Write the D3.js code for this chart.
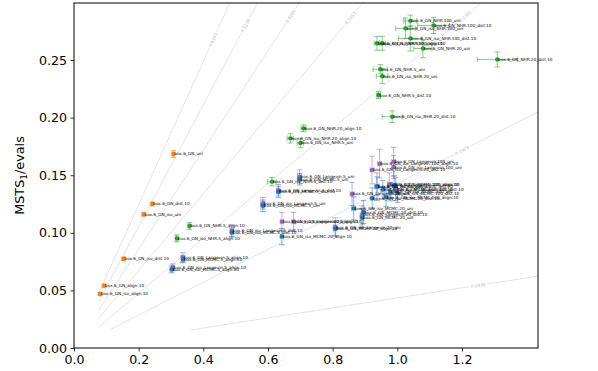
<!DOCTYPE html>
<html><head><meta charset="utf-8">
<script src="https://cdn.jsdelivr.net/npm/d3@7"></script>
<style>body{margin:0;background:#fff} svg{display:block;font-family:"DejaVu Sans",sans-serif}</style>
</head><body><svg id="c" width="598" height="371"></svg>
<script>
// ---------- data ----------
const xTicks = [0.0, 0.2, 0.4, 0.6, 0.8, 1.0, 1.2];
const yTicks = [0.00, 0.05, 0.10, 0.15, 0.20, 0.25];

const refSlopes = [0.622, 0.528, 0.43, 0.335, 0.238, 0.1429, 0.0435];
const refStartX = [0.075, 0.075, 0.075, 0.075, 0.075, 0.11, 0.36];
const refLabelX = [0.43, 0.53, 0.67, 0.855, 1.21, 1.2, 1.25];
const refLabels = ["0.6190", "0.5238", "0.4286", "0.3333", "0.2381", "0.1429", "0.0435"];

const groupNames = ["base", "NHR", "Langevin", "MCMC"];
const groupColors = ["#ff7f0e", "#2ca02c", "#9467bd", "#1f77b4"];

const pointNames = [
  "box.6_GN_uni","box.6_GN_dist.10","box.6_GN_iso_uni","box.6_GN_iso_dist.10","box.6_GN_align.10","box.6_GN_iso_align.10",
  "box.6_GN_NHR.5_align.10","box.6_GN_iso_NHR.5_align.10","box.6_GN_NHR.5_uni","box.6_GN_iso_NHR.5_uni","box.6_GN_NHR.5_dist.10","box.6_GN_iso_NHR.5_dist.10",
  "box.6_GN_NHR.20_align.10","box.6_GN_iso_NHR.20_align.10","box.6_GN_NHR.20_uni","box.6_GN_iso_NHR.20_uni","box.6_GN_NHR.20_dist.10","box.6_GN_iso_NHR.20_dist.10",
  "box.6_GN_NHR.100_uni","box.6_GN_iso_NHR.100_uni","box.6_GN_NHR.100_dist.10","box.6_GN_iso_NHR.100_dist.10","box.6_GN_NHR.100_align.10","box.6_GN_iso_NHR.100_align.10",
  "box.6_GN_Langevin.5_align.10","box.6_GN_iso_Langevin.5_align.10","box.6_GN_Langevin.5_uni","box.6_GN_iso_Langevin.5_uni","box.6_GN_Langevin.5_dist.10","box.6_GN_iso_Langevin.5_dist.10",
  "box.6_GN_Langevin.20_align.10","box.6_GN_iso_Langevin.20_align.10","box.6_GN_iso_Langevin.20_uni","box.6_GN_Langevin.20_uni","box.6_GN_Langevin.20_dist.10","box.6_GN_iso_Langevin.20_dist.10",
  "box.6_GN_iso_Langevin.100_dist.10","box.6_GN_Langevin.100_uni","box.6_GN_iso_Langevin.100_uni","box.6_GN_iso_Langevin.100_align.10","box.6_GN_Langevin.100_align.10","box.6_GN_Langevin.100_dist.10",
  "box.6_GN_MCMC.5_align.10","box.6_GN_iso_MCMC.5_align.10","box.6_GN_MCMC.5_uni","box.6_GN_iso_MCMC.5_uni","box.6_GN_MCMC.5_dist.10","box.6_GN_iso_MCMC.5_dist.10",
  "box.6_GN_iso_MCMC.20_align.10","box.6_GN_MCMC.20_align.10","box.6_GN_iso_MCMC.20_uni","box.6_GN_MCMC.20_uni","box.6_GN_MCMC.20_dist.10","box.6_GN_iso_MCMC.20_dist.10",
  "box.6_GN_MCMC.100_uni","box.6_GN_iso_MCMC.100_uni","box.6_GN_MCMC.100_dist.10","box.6_GN_iso_MCMC.100_dist.10","box.6_GN_MCMC.100_align.10","box.6_GN_iso_MCMC.100_align.10"
];
const pointX = [
  0.307,0.242,0.215,0.153,0.093,0.0805,
  0.357,0.318,0.947,0.700,0.942,0.612,
  0.710,0.669,1.079,0.953,1.309,0.984,
  1.040,1.025,1.112,1.040,0.953,0.937,
  0.336,0.3055,0.6975,0.584,0.632,0.488,
  0.679,0.643,0.808,0.860,0.891,0.9215,
  0.937,0.9886,0.9886,0.945,0.975,0.995,
  0.337,0.302,0.6975,0.584,0.632,0.488,
  0.643,0.808,0.865,0.891,0.895,0.922,
  0.937,0.978,1.0,0.955,0.99,0.965
];
const pointY = [
  0.1684,0.125,0.116,0.0775,0.054,0.0469,
  0.106,0.0952,0.242,0.178,0.2196,0.1444,
  0.1907,0.182,0.260,0.236,0.2505,0.2008,
  0.284,0.2775,0.280,0.2688,0.2645,0.2645,
  0.0787,0.0700,0.1487,0.1256,0.137,0.1018,
  0.1097,0.1097,0.105,0.1337,0.1155,0.1545,
  0.140,0.1617,0.157,0.160,0.142,0.138,
  0.0770,0.0683,0.1465,0.1235,0.1355,0.1003,
  0.0967,0.1035,0.1212,0.113,0.118,0.130,
  0.1405,0.1357,0.1345,0.1375,0.1415,0.131
];
const pointXErr = [
  0.003,0.003,0.003,0.003,0.003,0.003,
  0.004,0.004,0.022,0.01,0.006,0.013,
  0.008,0.01,0.028,0.018,0.062,0.031,
  0.02,0.03,0.049,0.036,0.01,0.009,
  0.004,0.004,0.006,0.006,0.005,0.005,
  0.005,0.005,0.006,0.006,0.006,0.006,
  0.006,0.006,0.006,0.006,0.006,0.006,
  0.004,0.004,0.006,0.006,0.005,0.005,
  0.005,0.006,0.006,0.006,0.006,0.006,
  0.006,0.006,0.006,0.006,0.006,0.006
];
const pointYErr = [
  0.003,0.0015,0.0015,0.0012,0.0012,0.0012,
  0.003,0.003,0.004,0.004,0.003,0.0036,
  0.003,0.004,0.008,0.0065,0.0065,0.005,
  0.005,0.009,0.007,0.011,0.006,0.006,
  0.004,0.003,0.006,0.005,0.005,0.005,
  0.008,0.008,0.008,0.01,0.008,0.012,
  0.012,0.0125,0.01,0.0125,0.01,0.01,
  0.003,0.003,0.005,0.005,0.005,0.004,
  0.007,0.006,0.01,0.008,0.01,0.009,
  0.008,0.008,0.008,0.008,0.008,0.008
];
const pointGroup = [
  0,0,0,0,0,0,
  1,1,1,1,1,1,1,1,1,1,1,1,1,1,1,1,1,1,
  2,2,2,2,2,2,2,2,2,2,2,2,2,2,2,2,2,2,
  3,3,3,3,3,3,3,3,3,3,3,3,3,3,3,3,3,3
];

// ---------- chart ----------
const W = 598, H = 371;
const m = {l: 74, r: 60, t: 3, b: 23};
const svg = d3.select("#c");
const x = d3.scaleLinear().domain([0, 1.435]).range([m.l, W - m.r]);
const y = d3.scaleLinear().domain([0, 0.2995]).range([H - m.b, m.t]);

svg.append("defs").append("clipPath").attr("id", "clip")
  .append("rect").attr("x", m.l).attr("y", m.t).attr("width", W - m.l - m.r).attr("height", H - m.t - m.b);

// reference lines
const refG = svg.append("g").attr("clip-path", "url(#clip)");
refSlopes.forEach((s, i) => {
  const xEnd = Math.min(1.435, 0.2995 / s);
  refG.append("line")
    .attr("x1", x(refStartX[i])).attr("y1", y(s * refStartX[i]))
    .attr("x2", x(xEnd)).attr("y2", y(s * xEnd))
    .attr("stroke", "#dcdcdc").attr("stroke-width", 0.8);
  const lx = x(refLabelX[i]), ly = y(s * refLabelX[i]);
  const ang = Math.atan2(y(s * refLabelX[i]) - y(s * (refLabelX[i] + 0.1)), x(refLabelX[i] + 0.1) - x(refLabelX[i])) * 180 / Math.PI;
  const lg = refG.append("g").attr("transform", `translate(${lx},${ly}) rotate(${-ang})`);
  lg.append("rect").attr("x", -9).attr("y", -2.6).attr("width", 18).attr("height", 5.2).attr("fill", "#fff");
  lg.append("text").attr("text-anchor", "middle").attr("dy", "0.35em")
    .attr("font-size", 4.3).attr("fill", "#b8b8b8").text(refLabels[i]);
});

// points
const data = pointNames.map((n, i) => ({n, x: pointX[i], y: pointY[i], xe: pointXErr[i], ye: pointYErr[i], g: pointGroup[i]}));
const ptG = svg.append("g");
const cap = 2.8;
data.forEach(d => {
  const c = groupColors[d.g];
  const g = ptG.append("g").attr("stroke", c).attr("stroke-opacity", 0.55).attr("stroke-width", 1);
  const px = x(d.x), py = y(d.y);
  const x0 = x(d.x - d.xe), x1 = x(d.x + d.xe), y0 = y(d.y - d.ye), y1 = y(d.y + d.ye);
  g.append("line").attr("x1", x0).attr("x2", x1).attr("y1", py).attr("y2", py);
  g.append("line").attr("x1", px).attr("x2", px).attr("y1", y0).attr("y2", y1);
  g.append("line").attr("x1", x0).attr("x2", x0).attr("y1", py - cap).attr("y2", py + cap);
  g.append("line").attr("x1", x1).attr("x2", x1).attr("y1", py - cap).attr("y2", py + cap);
  g.append("line").attr("x1", px - cap).attr("x2", px + cap).attr("y1", y0).attr("y2", y0);
  g.append("line").attr("x1", px - cap).attr("x2", px + cap).attr("y1", y1).attr("y2", y1);
});
data.forEach(d => {
  ptG.append("circle").attr("cx", x(d.x)).attr("cy", y(d.y)).attr("r", 2.2)
    .attr("fill", groupColors[d.g]);
});
data.forEach(d => {
  ptG.append("text").attr("x", x(d.x) + 1).attr("y", y(d.y)).attr("dy", "0.35em")
    .attr("font-size", 4.2).attr("fill", "#000").text(d.n);
});

// axes
const xAxis = svg.append("g").attr("transform", `translate(0,${H - m.b})`)
  .call(d3.axisBottom(x).tickValues(xTicks).tickFormat(d3.format(".1f")).tickSize(3.5).tickPadding(3.5));
const yAxis = svg.append("g").attr("transform", `translate(${m.l},0)`)
  .call(d3.axisLeft(y).tickValues(yTicks).tickFormat(d3.format(".2f")).tickSize(3.5).tickPadding(3.5));
[xAxis, yAxis].forEach(a => {
  a.selectAll("text").attr("font-size", 12.6).attr("font-family", "DejaVu Sans").attr("fill", "#000");
  a.selectAll("line").attr("stroke", "#000").attr("stroke-width", 0.8);
  a.select(".domain").remove();
});
svg.append("rect").attr("x", m.l).attr("y", m.t).attr("width", W - m.l - m.r).attr("height", H - m.t - m.b)
  .attr("fill", "none").attr("stroke", "#000").attr("stroke-width", 1);

// y label
const yl = svg.append("text").attr("transform", `translate(24,${(m.t + H - m.b) / 2}) rotate(-90)`)
  .attr("text-anchor", "middle").attr("font-size", 12.8).attr("fill", "#000");
yl.append("tspan").text("MSTS");
yl.append("tspan").attr("font-size", 9).attr("dy", 3).text("1");
yl.append("tspan").attr("dy", -3).text("/evals");
</script></body></html>
